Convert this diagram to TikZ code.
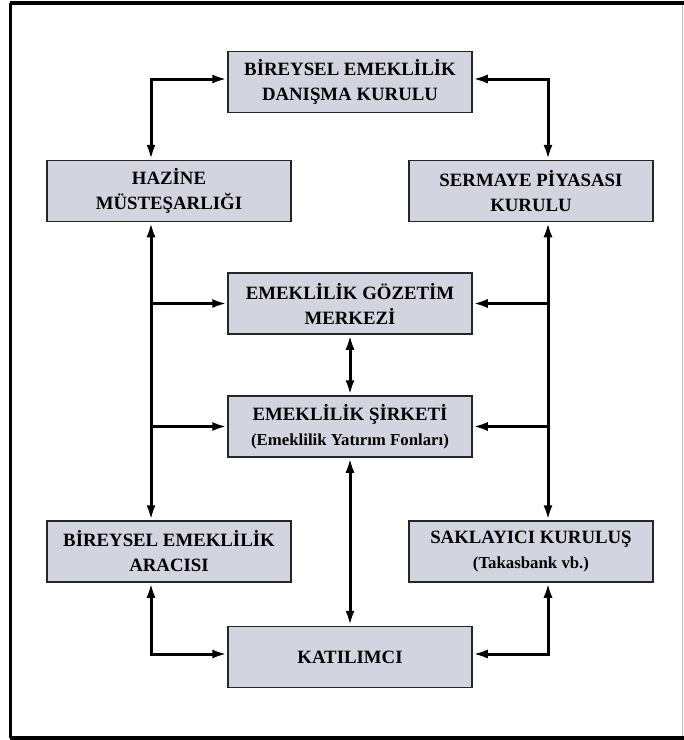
\documentclass[tikz,border=0pt]{standalone}
\usepackage{fontspec}
\setmainfont{Liberation Serif}
\usepackage{tikz}
\usetikzlibrary{arrows.meta}
\usetikzlibrary{positioning}
\definecolor{kutu}{RGB}{210,213,224}
\newcommand{\altsatir}{\fontsize{16.8}{25}\selectfont}
\tikzset{>={Latex[length=15pt,width=9pt]}}
\tikzstyle{kurum} = [rectangle, draw=black!85, line width=1.5pt, fill=kutu, minimum width=244pt, minimum height=61pt, inner sep=0pt, align=center, font=\fontsize{18.8}{25}\selectfont\bfseries]
\tikzstyle{bag} = [<->, line width=3pt]

\begin{document}
\begin{tikzpicture}[x=1pt, y=-1pt]
\useasboundingbox (0,0) rectangle (684,740);
\fill [white] (0,0) rectangle (684,740);
% cerceve
\draw [line width=4pt] (684,3) -- (10,3);
\draw [line width=3pt] (10,3) -- (10,738);
\draw [line width=4.5pt] (10,738) -- (684,738);
\draw [black!25, line width=1pt] (682,5) -- (682,736);
% kurumlar
\node [kurum] (danisma) at (350, 82) {BİREYSEL EMEKLİLİK\\DANIŞMA KURULU};
\node [kurum] (hazine) at (169, 191) {HAZİNE\\MÜSTEŞARLIĞI};
\node [kurum] (spk) at (531, 191) {SERMAYE PİYASASI\\KURULU};
\node [kurum] (gozetim) at (350, 303.5) {EMEKLİLİK GÖZETİM\\MERKEZİ};
\node [kurum] (sirket) at (350, 426.5) {EMEKLİLİK ŞİRKETİ\\{\altsatir (Emeklilik Yatırım Fonları)}};
\node [kurum] (araci) at (169, 551.5) {BİREYSEL EMEKLİLİK\\ARACISI};
\node [kurum] (saklayici) at (531, 551.5) {SAKLAYICI KURULUŞ\\{\altsatir (Takasbank vb.)}};
\node [kurum] (katilimci) at (350, 657) {KATILIMCI};
\coordinate (solhat) at (151, 0);
\coordinate (saghat) at (548, 0);
% baglantilar
\draw [bag] (hazine.north -| solhat) |- ([yshift=3]danisma.west);
\draw [bag] (spk.north -| saghat) |- ([yshift=3]danisma.east);
\draw [bag] (hazine.south -| solhat) -- (araci.north -| solhat);
\draw [bag] (spk.south -| saghat) -- (saklayici.north -| saghat);
\draw [->, line width=3pt] (gozetim.west -| solhat) -- (gozetim.west);
\draw [->, line width=3pt] (sirket.west -| solhat) -- (sirket.west);
\draw [->, line width=3pt] (gozetim.east -| saghat) -- (gozetim.east);
\draw [->, line width=3pt] (sirket.east -| saghat) -- (sirket.east);
\draw [bag] (gozetim.south) -- (sirket.north);
\draw [bag] (sirket.south) -- (katilimci.north);
\draw [bag] (araci.south -| solhat) |- ([yshift=3]katilimci.west);
\draw [bag] (saklayici.south -| saghat) |- ([yshift=3]katilimci.east);
\end{tikzpicture}
\end{document}
